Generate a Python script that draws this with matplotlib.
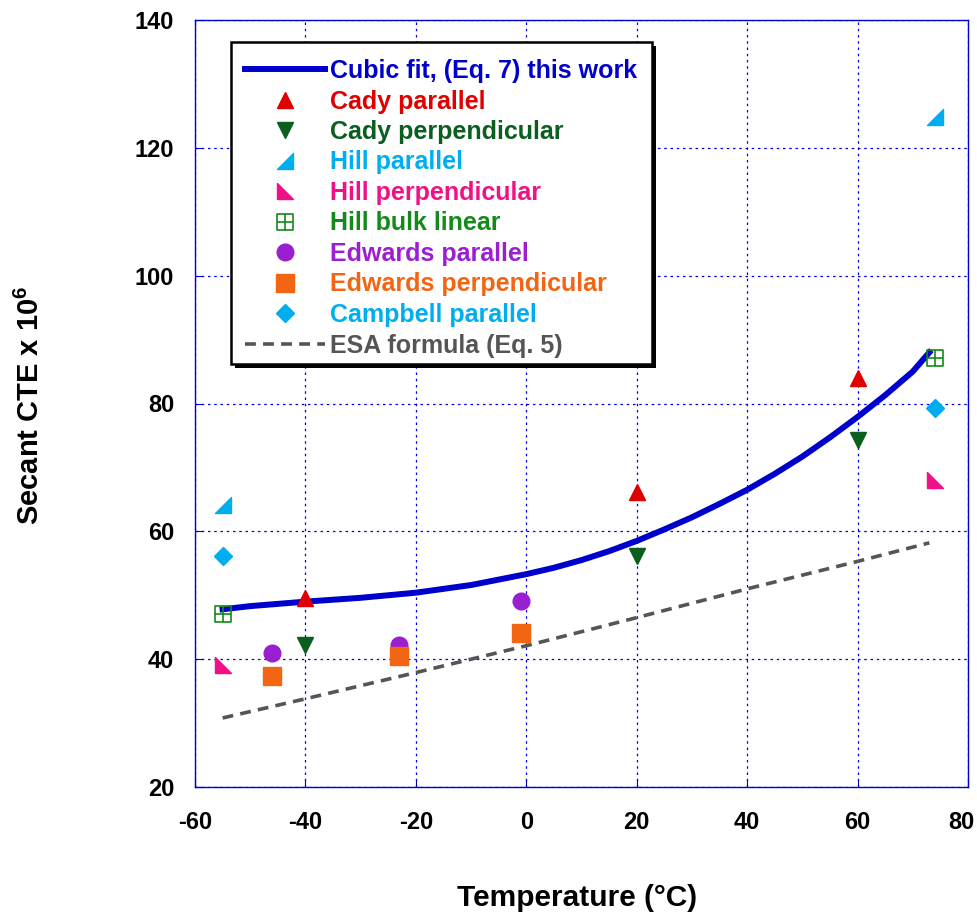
import matplotlib
matplotlib.use("Agg")
import matplotlib.pyplot as plt
from matplotlib.path import Path
from matplotlib.patches import Rectangle
from matplotlib.transforms import ScaledTranslation

plt.rcParams['font.family'] = ['Liberation Sans', 'DejaVu Sans']
plt.rcParams['font.weight'] = 'bold'
plt.rcParams['axes.unicode_minus'] = False
plt.rcParams['mathtext.fontset'] = 'custom'
plt.rcParams['mathtext.bf'] = 'Liberation Sans:bold'

# Data
fit_x = [-55, -50, -40, -30, -20, -10, 0, 5, 10, 15, 20, 25, 30, 35, 40, 45, 50, 55, 60, 65, 70, 73]
fit_y = [47.8, 48.3, 49.0, 49.6, 50.4, 51.6, 53.3, 54.3, 55.5, 56.9, 58.5, 60.3, 62.2, 64.3, 66.5,
         69.0, 71.7, 74.7, 77.9, 81.3, 85.0, 88.0]

esa_x = [-55, -40, -20, 0, 20, 40, 60, 73]
esa_y = [30.8, 33.8, 37.9, 42.1, 46.5, 51.0, 55.3, 58.2]

cady_par_x = [-40, 20, 60]
cady_par_y = [49.6, 66.2, 84.0]
cady_perp_x = [-40, 20, 60]
cady_perp_y = [42.2, 56.2, 74.3]
hill_par_x = [-55, 74]
hill_par_y = [64.1, 124.8]
hill_perp_x = [-55, 74]
hill_perp_y = [39.1, 68.0]
hill_bulk_x = [-55, 74]
hill_bulk_y = [47.1, 87.1]
edw_par_x = [-46, -23, -1]
edw_par_y = [41.0, 42.2, 49.1]
edw_perp_x = [-46, -23, -1]
edw_perp_y = [37.4, 40.5, 44.1]
camp_par_x = [-55, 74]
camp_par_y = [56.1, 79.3]

# custom markers
tri_up_right = Path([(-1, -1), (1, -1), (1, 1), (-1, -1)],
                    [Path.MOVETO, Path.LINETO, Path.LINETO, Path.CLOSEPOLY])
tri_up_left = Path([(-1, 1), (-1, -1), (1, -1), (-1, 1)],
                   [Path.MOVETO, Path.LINETO, Path.LINETO, Path.CLOSEPOLY])
grid_sq = Path([(-1, -1), (1, -1), (1, 1), (-1, 1), (-1, -1),
                (0, -1), (0, 1), (-1, 0), (1, 0)],
               [Path.MOVETO, Path.LINETO, Path.LINETO, Path.LINETO, Path.CLOSEPOLY,
                Path.MOVETO, Path.LINETO, Path.MOVETO, Path.LINETO])

W, H = 978, 916
fig = plt.figure(figsize=(W / 100, H / 100), dpi=100)
ax = fig.add_axes([195/W, 1 - 787/H, (968-195)/W, (787-20)/H])

ax.plot(fit_x, fit_y, color='#0000cc', lw=4.3, label='Cubic fit, (Eq. 7) this work', zorder=3)
ax.plot(cady_par_x, cady_par_y, ls='none', marker='^', ms=12, color='#e00000', label='Cady parallel', zorder=4)
ax.plot(cady_perp_x, cady_perp_y, ls='none', marker='v', ms=12, color='#0a5e1e', label='Cady perpendicular', zorder=4)
ax.plot(hill_par_x, hill_par_y, ls='none', marker=tri_up_right, ms=12, color='#00aeef', label='Hill parallel', zorder=4)
ax.plot(hill_perp_x, hill_perp_y, ls='none', marker=tri_up_left, ms=12, color='#ee1188', label='Hill perpendicular', zorder=4)
ax.plot(hill_bulk_x, hill_bulk_y, ls='none', marker=grid_sq, ms=12, mfc='none', mew=1.2,
        color='#138a1a', label='Hill bulk linear', zorder=4)
ax.plot(edw_par_x, edw_par_y, ls='none', marker='o', ms=12, color='#9a1fd0', label='Edwards parallel', zorder=4)
ax.plot(edw_perp_x, edw_perp_y, ls='none', marker='s', ms=12.5, color='#f26513', label='Edwards perpendicular', zorder=5)
ax.plot(camp_par_x, camp_par_y, ls='none', marker='D', ms=8.7, color='#00aeef', label='Campbell parallel', zorder=4)
ax.plot(esa_x, esa_y, color='#555555', lw=2.6, dashes=(3, 2), label='ESA formula (Eq. 5)', zorder=3)

ax.set_xlim(-60, 80)
ax.set_ylim(20, 140)
ax.set_xticks(range(-60, 81, 20))
ax.set_yticks(range(20, 141, 20))
ax.grid(True, color='#0000ee', ls=(0, (2, 3)), lw=0.9)
for s in ax.spines.values():
    s.set_color('#0000cc')
    s.set_linewidth(1.0)
ax.tick_params(direction='in', length=6, color='#0000cc', labelsize=17)
ax.tick_params(axis='x', pad=17.5)
ax.tick_params(axis='y', pad=15)
last = ax.get_xticklabels()[-1]
last.set_transform(last.get_transform() + ScaledTranslation(-7/100, 0, fig.dpi_scale_trans))

fig.text(30/W, 1 - 405/H, 'Secant CTE x 10$^{\\mathbf{6}}$', rotation=90, fontsize=21,
         fontweight='bold', ha='center', va='center')
fig.text(577/W, 1 - 898/H, 'Temperature (°C)', fontsize=21.5, fontweight='bold',
         ha='center', va='center')

# legend frame with solid shadow
shadow = Rectangle((235/W, 1 - 368/H), 421/W, 322/H, transform=fig.transFigure,
                   facecolor='black', edgecolor='none', zorder=10)
frame = Rectangle((231/W, 1 - 364/H), 421/W, 322/H, transform=fig.transFigure,
                  facecolor='white', edgecolor='black', lw=1.8, zorder=11)
ax.add_patch(shadow)
ax.add_patch(frame)

leg = ax.legend(loc='upper left', bbox_to_anchor=(245/W, 1 - 59/H),
                bbox_transform=fig.transFigure, fontsize=18, handlelength=3.2,
                handletextpad=0.2, labelspacing=0.26, borderpad=0, borderaxespad=0,
                frameon=False)
leg.set_zorder(12)
for txt, line in zip(leg.get_texts(), leg.get_lines()):
    txt.set_color(line.get_color())
    txt.set_fontweight('bold')
leg.get_texts()[0].set_color('#0000cc')
leg.get_texts()[-1].set_color('#555555')

fig.savefig('out.png', dpi=100)
